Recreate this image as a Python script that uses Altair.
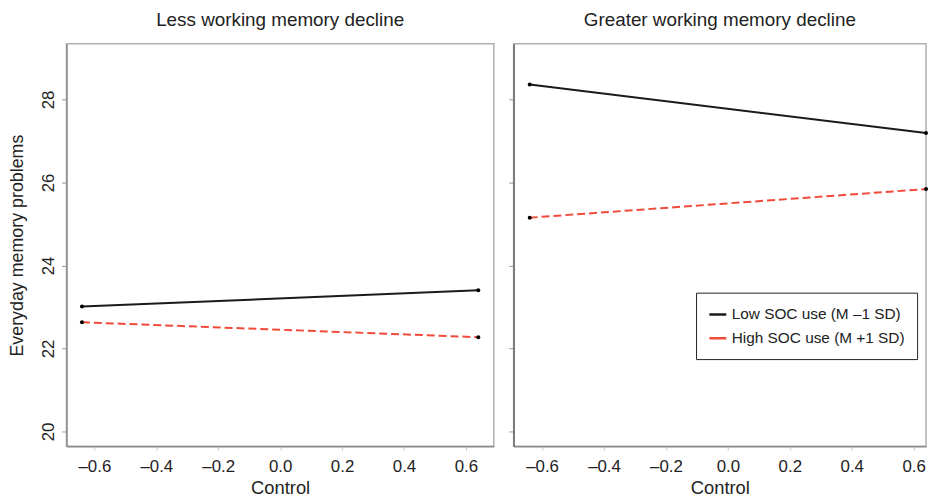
import altair as alt
import pandas as pd

# ---- data ----
panels = ["Less working memory decline", "Greater working memory decline"]
series = ["Low SOC use (M \u20131 SD)", "High SOC use (M +1 SD)"]
control_x = [-0.64, 0.64]
# values per panel, per series: [at x=-0.64, at x=0.64]
less_low = [23.01, 23.40]
less_high = [22.63, 22.27]
greater_low = [28.36, 27.19]
greater_high = [25.15, 25.84]
y_ticks = [20, 22, 24, 26, 28]
x_ticks = [-0.6, -0.4, -0.2, 0.0, 0.2, 0.4, 0.6]

colors = ["#1a1a1a", "#f04a3a"]
FONT = "Liberation Sans"

def make_df(low, high):
    rows = []
    for s, vals in zip(series, [low, high]):
        for x, y in zip(control_x, vals):
            rows.append({"series": s, "control": x, "problems": y})
    return pd.DataFrame(rows)

x_label_expr = "(datum.value < -0.001 ? '\u2013' : '') + format(abs(datum.value), '.1f')"

def panel(df, title, first):
    xdom = [-0.69, 0.69] if first else [-0.692, 0.640]
    width = 431 if first else 416
    x = alt.X(
        "control:Q",
        scale=alt.Scale(domain=xdom, nice=False, zero=False),
        axis=alt.Axis(
            values=x_ticks, title="Control", labelExpr=x_label_expr,
            grid=False, tickSize=4, tickColor="#cccccc", labelPadding=8,
            titlePadding=5, domainColor="#8a8a8a", domainWidth=1.5,
        ),
    )
    if first:
        yaxis = alt.Axis(
            values=y_ticks, title="Everyday memory problems", grid=False,
            labelAngle=-90, labelAlign="center", labelBaseline="bottom",
            tickSize=5, tickColor="#999999", labelPadding=4, titlePadding=13,
            titleFontSize=18,
            domainColor="#8a8a8a", domainWidth=1.5,
        )
    else:
        yaxis = alt.Axis(
            values=y_ticks, title=None, labels=False, grid=False,
            tickSize=5, tickColor="#999999",
            domainColor="#666666", domainWidth=1.5,
        )
    y = alt.Y("problems:Q", scale=alt.Scale(domain=[19.64, 29.34], nice=False, zero=False), axis=yaxis)

    if first:
        legend = None
    else:
        legend = alt.Legend(
            title=None, orient="none", legendX=184, legendY=251,
            symbolType="stroke", symbolSize=289, symbolStrokeWidth=2.5,
            symbolDash=[1, 0],
            labelFontSize=15.5, labelFont=FONT, labelColor="#222222",
            labelLimit=400,
            padding=12, rowPadding=5, labelOffset=4,
            strokeColor="#222222", fillColor="white",
        )
    color = alt.Color("series:N", scale=alt.Scale(domain=series, range=colors), legend=legend)
    base = alt.Chart(df)
    solid = base.transform_filter(alt.datum.series == series[0]).mark_line(strokeWidth=2).encode(
        x=x, y=y, color=color
    )
    dashed = base.transform_filter(alt.datum.series == series[1]).mark_line(
        strokeWidth=2, strokeDash=[8, 4]
    ).encode(x=x, y=y, color=color)
    pts = base.mark_circle(size=16, color="black", opacity=1).encode(x=x, y=y)
    return alt.layer(solid, dashed, pts).properties(
        width=width, height=406,
        title=alt.TitleParams(title, fontSize=19, font=FONT, fontWeight="normal",
                              color="#222222", anchor="middle", offset=14),
    )

left = panel(make_df(less_low, less_high), panels[0], True)
right = panel(make_df(greater_low, greater_high), panels[1], False)

chart = alt.hconcat(left, right, spacing=12).resolve_scale(
    color="independent"
).resolve_legend(color="independent").properties(
    padding=0
).configure_view(
    stroke="#b0b0b0", strokeWidth=1.5
).configure_axis(
    labelFont=FONT, titleFont=FONT, labelFontSize=17, titleFontSize=18.5,
    labelColor="#222222", titleColor="#222222", titleFontWeight="normal",
)

chart.save("out.html", embed_options={"renderer": "svg", "actions": False})
